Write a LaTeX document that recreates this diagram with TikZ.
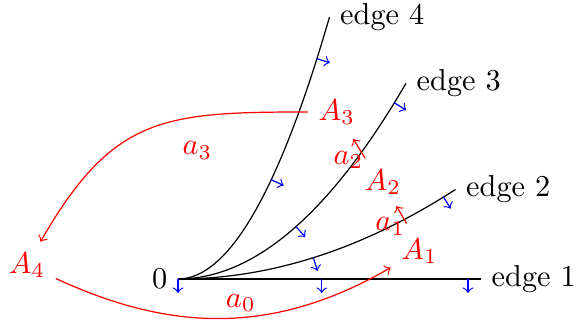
\documentclass[tikz,border=0pt]{standalone}
\begin{document}
\begin{tikzpicture}[x=0.33pt,y=0.33pt,
  edgeline/.style={black,line width=0.4pt},
  bluetick/.style={blue,->},
  redtick/.style={red,->},
  redarrow/.style={red,->},
  redlabel/.style={red,inner sep=3.33pt},
  edgelabel/.style={anchor=west}]
\useasboundingbox (0,0) rectangle (577,331);
% vertex
\coordinate (O) at (178,52);
\coordinate (E1) at (481,52);
\coordinate (E2) at (455.5,141.5);
\coordinate (E3) at (406,247.7);
\coordinate (E4) at (329.5,314);
% edges
\draw[edgeline] (O) -- (E1);
\draw[edgeline] (O) .. controls (270.5,52) and (363,81.83) .. (E2);
\draw[edgeline] (O) .. controls (254,52) and (330,117.2) .. (E3);
\draw[edgeline] (O) .. controls (228.5,52) and (279,139.3) .. (E4);
\node[anchor=east] (zero) at (O) {0};
\node[edgelabel] (l1) at (E1) {edge 1};
\node[edgelabel] (l2) at (E2) {edge 2};
\node[edgelabel] (l3) at (E3) {edge 3};
\node[edgelabel] (l4) at (E4) {edge 4};
% blue ticks
\coordinate (t1as) at (178,52);    \coordinate (t1ae) at (178,38);
\coordinate (t1bs) at (321.7,52);  \coordinate (t1be) at (321.7,38);
\coordinate (t1cs) at (468,52);    \coordinate (t1ce) at (468,38);
\coordinate (t2as) at (313.3,73.4); \coordinate (t2ae) at (317.5,60.1);
\coordinate (t2bs) at (443.3,134.3); \coordinate (t2be) at (450.7,122.4);
\coordinate (t3as) at (296,104.4); \coordinate (t3ae) at (305.3,93.9);
\coordinate (t3bs) at (394.3,228.2); \coordinate (t3be) at (406.2,220.9);
\coordinate (t4as) at (271,151.4); \coordinate (t4ae) at (283.7,145.5);
\coordinate (t4bs) at (316.5,272.4); \coordinate (t4be) at (329.9,268.2);
\foreach \t in {1a,1b,1c,2a,2b,3a,3b,4a,4b}
  \draw[bluetick] (t\t s) -- (t\t e);
% red ticks
\coordinate (r1s) at (406.5,107.5); \coordinate (r1e) at (396.5,125);
\coordinate (r2s) at (365,173);     \coordinate (r2e) at (353.3,192);
\draw[redtick] (r1s) -- (r1e);
\draw[redtick] (r2s) -- (r2e);
% red nodes
\node[redlabel] (A1) at (419.5,80) {$A_1$};
\node[redlabel] (A2) at (382.8,149) {$A_2$};
\node[redlabel] (A3) at (336.7,219) {$A_3$};
\node[redlabel] (A4) at (27,66) {$A_4$};
\node[redlabel] (a0) at (240.8,28) {$a_0$};
\node[redlabel] (a1) at (390.3,104.6) {$a_1$};
\node[redlabel] (a2) at (348.5,171) {$a_2$};
\node[redlabel] (a3) at (197.5,180.3) {$a_3$};
% red arrows
\draw[redarrow] (A3) to[out=180,in=60,looseness=1.25] (A4);
\draw[redarrow] (A4) to[out=-25,in=210,looseness=1] (A1);
\end{tikzpicture}
\end{document}
